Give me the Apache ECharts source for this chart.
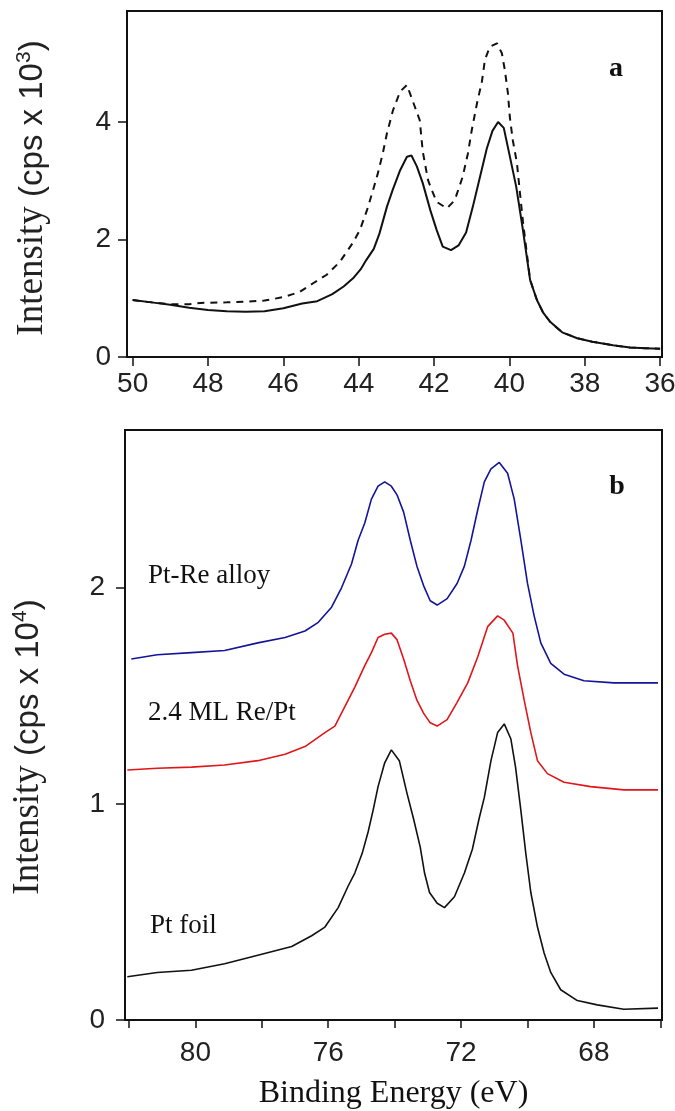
<!DOCTYPE html>
<html><head><meta charset="utf-8">
<script src="https://cdn.jsdelivr.net/npm/echarts@6/dist/echarts.min.js"></script>
<style>html,body{margin:0;padding:0;background:#fff}#c{width:675px;height:1111px}</style>
</head><body><div id="c"></div>
<script>
// Panel a: Re 4f region (cps x 10^3)
const topSolid = [[50.0,0.97],[49.5,0.93],[49.0,0.89],[48.5,0.84],[48.0,0.80],[47.5,0.78],[47.0,0.77],[46.5,0.78],[46.0,0.83],[45.5,0.91],[45.1,0.95],[44.7,1.07],[44.4,1.20],[44.15,1.34],[43.95,1.49],[43.8,1.65],[43.6,1.84],[43.45,2.10],[43.25,2.56],[43.1,2.84],[42.9,3.18],[42.72,3.41],[42.6,3.43],[42.46,3.25],[42.3,2.96],[42.1,2.50],[41.93,2.16],[41.77,1.88],[41.55,1.82],[41.35,1.90],[41.15,2.12],[40.97,2.56],[40.78,3.07],[40.6,3.55],[40.45,3.85],[40.3,4.0],[40.15,3.90],[40.0,3.45],[39.82,2.90],[39.65,2.20],[39.45,1.31],[39.27,0.97],[39.1,0.75],[38.92,0.60],[38.6,0.42],[38.2,0.32],[37.8,0.26],[37.25,0.20],[36.8,0.16],[36.4,0.15],[36.0,0.14]];
const topDashed = [[50.0,0.97],[49.5,0.93],[49.0,0.90],[48.5,0.90],[48.2,0.92],[47.5,0.93],[47.0,0.94],[46.5,0.96],[46.0,1.02],[45.75,1.07],[45.56,1.11],[45.2,1.26],[44.85,1.40],[44.5,1.62],[44.16,1.94],[43.97,2.16],[43.78,2.50],[43.62,2.84],[43.49,3.13],[43.36,3.47],[43.25,3.81],[43.09,4.2],[42.9,4.52],[42.72,4.63],[42.51,4.26],[42.38,4.03],[42.3,3.5],[42.16,3.01],[42.06,2.84],[41.93,2.64],[41.66,2.53],[41.45,2.67],[41.24,3.07],[41.1,3.47],[41.0,3.86],[40.86,4.32],[40.73,4.69],[40.65,5.06],[40.52,5.28],[40.33,5.34],[40.2,5.17],[40.12,4.88],[40.04,4.49],[39.99,4.09],[39.91,3.69],[39.8,3.30],[39.72,2.79],[39.64,2.30],[39.45,1.31],[39.27,0.97],[39.1,0.75],[38.92,0.60],[38.6,0.42],[38.2,0.32],[37.8,0.26],[37.25,0.20],[36.8,0.16],[36.4,0.15],[36.0,0.14]];
const topXTicks = [36,38,40,42,44,46,48,50];
const topYTicks = [0,2,4];

// Panel b: Pt 4f region (cps x 10^4)
const ptFoil = [[82.05,0.20],[81.15,0.22],[80.12,0.23],[79.12,0.26],[78.12,0.30],[77.1,0.34],[76.5,0.39],[76.1,0.43],[75.7,0.52],[75.4,0.62],[75.2,0.68],[74.98,0.77],[74.8,0.87],[74.65,0.97],[74.5,1.08],[74.3,1.19],[74.1,1.25],[73.86,1.20],[73.63,1.05],[73.43,0.93],[73.23,0.80],[73.1,0.68],[72.95,0.59],[72.72,0.54],[72.5,0.52],[72.2,0.57],[71.9,0.68],[71.66,0.79],[71.46,0.93],[71.3,1.03],[71.1,1.20],[70.9,1.33],[70.7,1.37],[70.5,1.30],[70.36,1.17],[70.2,0.97],[70.05,0.77],[69.9,0.59],[69.7,0.43],[69.5,0.31],[69.3,0.22],[69.0,0.14],[68.5,0.09],[67.9,0.07],[67.1,0.05],[66.07,0.055]];
const reOnPt = [[82.05,1.157],[81.15,1.165],[80.12,1.17],[79.12,1.18],[78.12,1.20],[77.3,1.23],[76.7,1.265],[76.1,1.33],[75.8,1.36],[75.5,1.45],[75.2,1.54],[74.9,1.64],[74.7,1.70],[74.5,1.77],[74.3,1.785],[74.1,1.79],[73.93,1.76],[73.73,1.67],[73.53,1.57],[73.33,1.48],[73.13,1.42],[72.93,1.375],[72.72,1.36],[72.42,1.39],[72.12,1.47],[71.8,1.56],[71.5,1.68],[71.2,1.82],[70.9,1.87],[70.7,1.85],[70.44,1.79],[70.3,1.64],[70.1,1.48],[69.9,1.33],[69.7,1.20],[69.4,1.14],[68.9,1.10],[68.1,1.08],[67.1,1.065],[66.07,1.065]];
const ptReAlloy = [[81.93,1.67],[81.15,1.69],[80.12,1.70],[79.12,1.71],[78.12,1.745],[77.3,1.77],[76.7,1.80],[76.3,1.84],[75.9,1.91],[75.6,2.00],[75.3,2.11],[75.1,2.22],[74.9,2.30],[74.7,2.41],[74.5,2.47],[74.3,2.49],[74.1,2.47],[73.93,2.43],[73.73,2.35],[73.53,2.22],[73.33,2.10],[73.13,2.01],[72.93,1.94],[72.72,1.92],[72.42,1.95],[72.12,2.02],[71.9,2.10],[71.7,2.22],[71.5,2.36],[71.3,2.49],[71.1,2.55],[70.85,2.58],[70.6,2.53],[70.4,2.41],[70.2,2.22],[70.0,2.02],[69.8,1.87],[69.6,1.745],[69.3,1.65],[68.9,1.60],[68.3,1.57],[67.4,1.56],[66.07,1.56]];
const botXTicks = [66,68,70,72,74,76,78,80,82];
const botXLabels = [68,72,76,80];
const botYTicks = [0,1,2];
const curveLabels = ['Pt-Re alloy','2.4 ML Re/Pt','Pt foil'];

const SERIF = 'Liberation Serif';
const SANS = 'Liberation Sans';
const INK = '#111';

function yName(exp, shift) {
  return {
    name: '{s|Intensity }{a|(cps x 10}{sup|' + exp + '}{a|)}',
    nameLocation: 'middle',
    nameRotate: 90,
    nameTextStyle: {
      color: '#222',
      padding: [0, shift, 0, 0],
      rich: {
        s: {fontFamily: SERIF, fontSize: 37},
        a: {fontFamily: SANS, fontSize: 33},
        sup: {fontFamily: SANS, fontSize: 21, verticalAlign: 'top'}
      }
    }
  };
}
const axisLineStyle = {show: true, lineStyle: {color: INK, width: 2}};
const labelStyle = {fontFamily: SANS, fontSize: 28, color: '#222'};

const chart = echarts.init(document.getElementById('c'), null, {renderer: 'canvas'});
chart.setOption({
  animation: false,
  backgroundColor: '#fff',
  grid: [
    {left: 127, right: 13, top: 11, height: 346, show: true, borderColor: INK, borderWidth: 2, containLabel: false, outerBoundsMode: 'none'},
    {left: 125, right: 13, top: 430, height: 590, show: true, borderColor: INK, borderWidth: 2, containLabel: false, outerBoundsMode: 'none'}
  ],
  xAxis: [
    {gridIndex: 0, type: 'value', inverse: true, min: 35.95, max: 50.15,
     axisLine: axisLineStyle,
     axisTick: {show: true, length: 9, customValues: topXTicks, lineStyle: {color: INK, width: 1.5}},
     axisLabel: Object.assign({customValues: topXTicks, margin: 13}, labelStyle),
     splitLine: {show: false}},
    {gridIndex: 1, type: 'value', inverse: true, min: 65.95, max: 82.12,
     axisLine: axisLineStyle,
     axisTick: {show: true, length: 8, customValues: botXTicks, lineStyle: {color: INK, width: 1.5}},
     axisLabel: Object.assign({customValues: botXLabels, margin: 19}, labelStyle),
     splitLine: {show: false},
     name: 'Binding Energy (eV)', nameLocation: 'middle', nameGap: 58,
     nameTextStyle: {fontFamily: SERIF, fontSize: 32, color: INK}}
  ],
  yAxis: [
    Object.assign({gridIndex: 0, type: 'value', min: 0, max: 5.89,
     axisLine: axisLineStyle,
     axisTick: {show: true, length: 9, customValues: topYTicks, lineStyle: {color: INK, width: 1.5}},
     axisLabel: Object.assign({customValues: topYTicks, margin: 16}, labelStyle),
     splitLine: {show: false}, nameGap: 76}, yName('3', 8)),
    Object.assign({gridIndex: 1, type: 'value', min: 0, max: 2.73,
     axisLine: axisLineStyle,
     axisTick: {show: true, length: 9, customValues: botYTicks, lineStyle: {color: INK, width: 1.5}},
     axisLabel: Object.assign({customValues: botYTicks, margin: 20}, labelStyle),
     splitLine: {show: false}, nameGap: 78}, yName('4', 44))
  ],
  series: [
    {type: 'line', xAxisIndex: 0, yAxisIndex: 0, data: topDashed, symbol: 'none',
     lineStyle: {color: INK, width: 2, type: [7, 6]}},
    {type: 'line', xAxisIndex: 0, yAxisIndex: 0, data: topSolid, symbol: 'none',
     lineStyle: {color: INK, width: 2}},
    {type: 'line', xAxisIndex: 1, yAxisIndex: 1, data: ptReAlloy, symbol: 'none',
     lineStyle: {color: '#14149b', width: 1.6}},
    {type: 'line', xAxisIndex: 1, yAxisIndex: 1, data: reOnPt, symbol: 'none',
     lineStyle: {color: '#e0161a', width: 1.6}},
    {type: 'line', xAxisIndex: 1, yAxisIndex: 1, data: ptFoil, symbol: 'none',
     lineStyle: {color: INK, width: 1.6}}
  ],
  graphic: [
    {type: 'text', x: 616, y: 69, style: {text: 'a', font: 'bold 28px "Liberation Serif"', fill: INK, align: 'center', verticalAlign: 'middle'}},
    {type: 'text', x: 617, y: 487, style: {text: 'b', font: 'bold 28px "Liberation Serif"', fill: INK, align: 'center', verticalAlign: 'middle'}},
    {type: 'text', x: 148, y: 576, style: {text: curveLabels[0], font: '27px "Liberation Serif"', fill: INK, align: 'left', verticalAlign: 'middle'}},
    {type: 'text', x: 148, y: 713, style: {text: curveLabels[1], font: '27px "Liberation Serif"', fill: INK, align: 'left', verticalAlign: 'middle'}},
    {type: 'text', x: 150, y: 926, style: {text: curveLabels[2], font: '27px "Liberation Serif"', fill: INK, align: 'left', verticalAlign: 'middle'}}
  ]
});
</script></body></html>
